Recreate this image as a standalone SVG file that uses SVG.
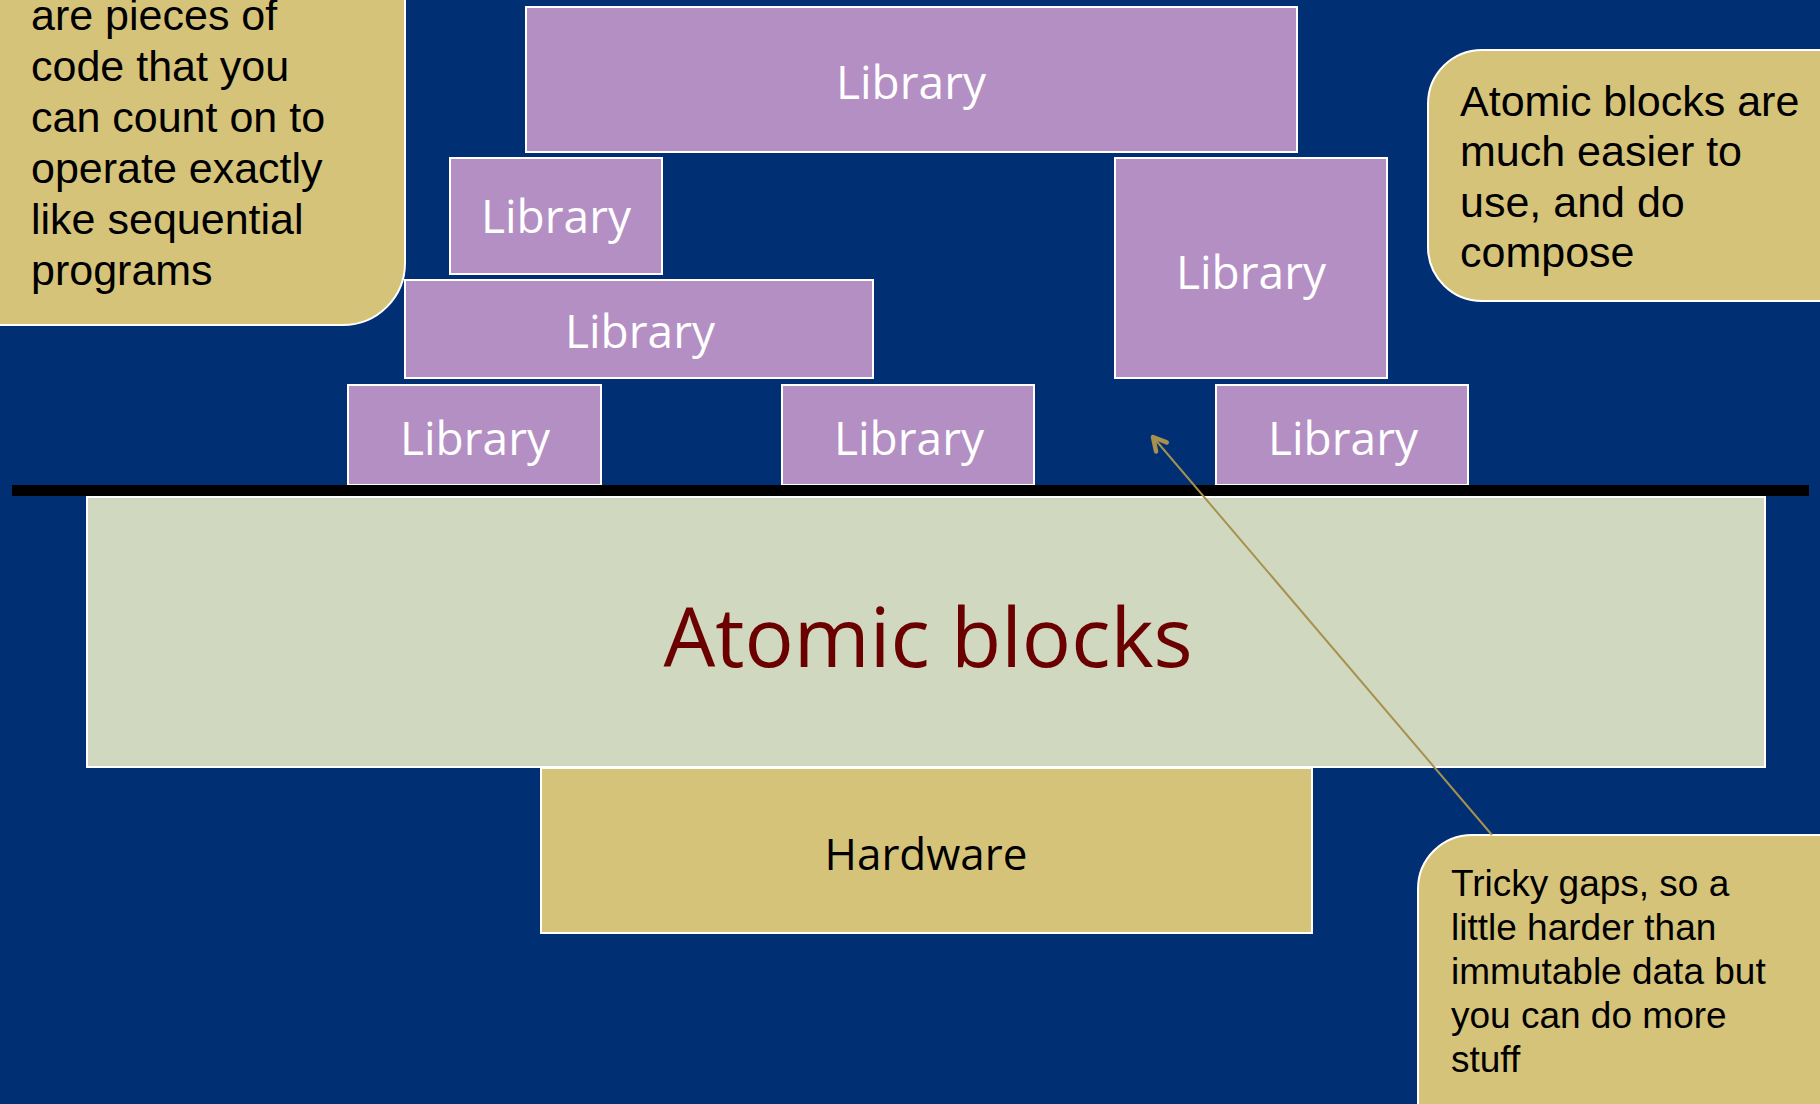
<svg xmlns="http://www.w3.org/2000/svg" width="1820" height="1104" viewBox="0 0 1820 1104">
<style>
.lib rect{fill:#B48FC4;stroke:#FFFFFF;stroke-width:2}
.lib text{font-family:"Open Sans","Liberation Sans",sans-serif;font-size:46px;fill:#FFFFFF;text-anchor:middle}
.call rect{fill:#D6C37A;stroke:#FFFFFF;stroke-width:2}
.call text{font-family:"Liberation Sans",Arial,sans-serif;fill:#000000}
</style>
<defs>
<marker id="ah" viewBox="0 0 20 20" refX="17" refY="10" markerWidth="20" markerHeight="20" markerUnits="userSpaceOnUse" orient="auto">
<path d="M4,3 L17,10 L4,17" fill="none" stroke="#A8904E" stroke-width="4.5" stroke-linecap="round" stroke-linejoin="round"/>
</marker>
</defs>
<rect x="0" y="0" width="1820" height="1104" fill="#003073"/>

<g id="callout-left" class="call">
<rect x="-60" y="-60" width="465" height="385" rx="62" ry="62"/>
<text font-size="43"><tspan x="31" y="30">are pieces of</tspan><tspan x="31" y="81">code that you</tspan><tspan x="31" y="132">can count on to</tspan><tspan x="31" y="183">operate exactly</tspan><tspan x="31" y="234">like sequential</tspan><tspan x="31" y="285">programs</tspan></text>
</g>

<g id="lib-top" class="lib"><rect x="526" y="7" width="771" height="145"/><text x="911" y="99">Library</text></g>
<g id="lib-small" class="lib"><rect x="450" y="158" width="212" height="116"/><text x="556" y="233">Library</text></g>
<g id="lib-mid" class="lib"><rect x="405" y="280" width="468" height="98"/><text x="640" y="348">Library</text></g>
<g id="lib-tall" class="lib"><rect x="1115" y="158" width="272" height="220"/><text x="1251" y="289">Library</text></g>
<g id="lib-b1" class="lib"><rect x="348" y="385" width="253" height="100"/><text x="475" y="455">Library</text></g>
<g id="lib-b2" class="lib"><rect x="782" y="385" width="252" height="100"/><text x="909" y="455">Library</text></g>
<g id="lib-b3" class="lib"><rect x="1216" y="385" width="252" height="100"/><text x="1343" y="455">Library</text></g>

<g id="divider"><rect x="12" y="485" width="1797" height="11" fill="#000000"/></g>

<g id="atomic"><rect x="87" y="497" width="1678" height="270" fill="#D0D9C0" stroke="#FFFFFF" stroke-width="2"/><text x="928" y="667" font-family="Open Sans, Liberation Sans, sans-serif" font-size="82" fill="#6B0000" text-anchor="middle">Atomic blocks</text></g>

<g id="hardware"><rect x="541" y="768" width="771" height="165" fill="#D6C37A" stroke="#FFFFFF" stroke-width="2"/><text x="926" y="870" font-family="Open Sans, Liberation Sans, sans-serif" font-size="44" fill="#000000" text-anchor="middle">Hardware</text></g>

<g id="callout-right" class="call">
<rect x="1428" y="50" width="460" height="251" rx="54" ry="54"/>
<text font-size="43"><tspan x="1460" y="116">Atomic blocks are</tspan><tspan x="1460" y="166">much easier to</tspan><tspan x="1460" y="217">use, and do</tspan><tspan x="1460" y="267">compose</tspan></text>
</g>

<g id="callout-bottom" class="call">
<rect x="1418" y="835" width="470" height="330" rx="54" ry="54"/>
<text font-size="37"><tspan x="1451" y="896">Tricky gaps, so a</tspan><tspan x="1451" y="940">little harder than</tspan><tspan x="1451" y="984">immutable data but</tspan><tspan x="1451" y="1028">you can do more</tspan><tspan x="1451" y="1072">stuff</tspan></text>
</g>

<g id="connectors">
<line x1="1492" y1="835" x2="1153" y2="437" stroke="#A8904E" stroke-width="2" marker-end="url(#ah)"/>
</g>
</svg>
